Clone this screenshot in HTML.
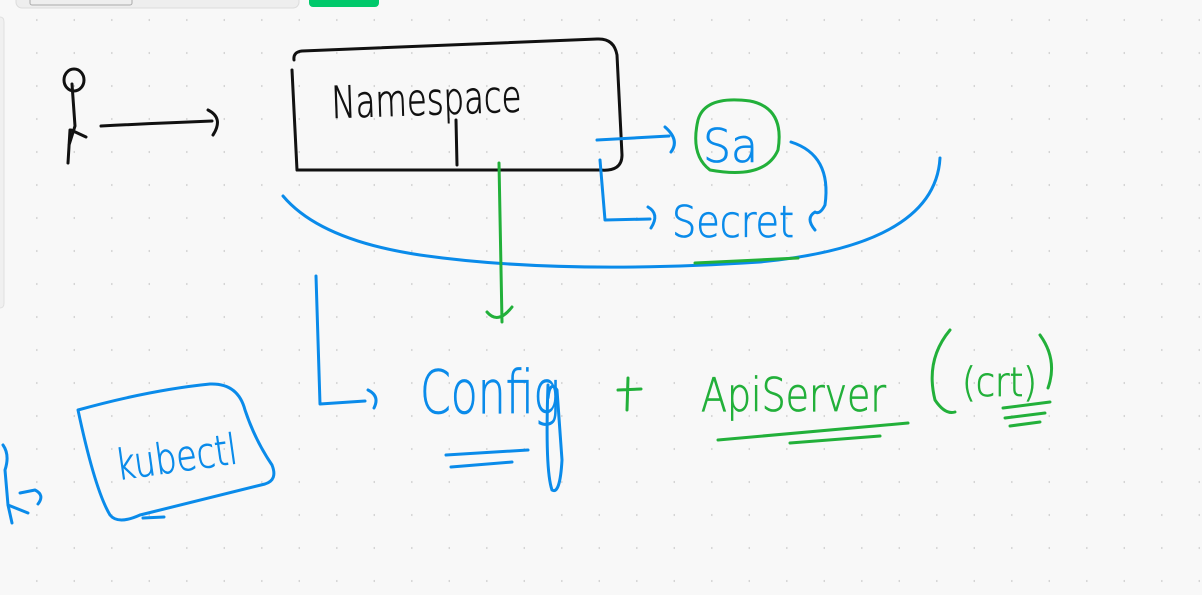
<!DOCTYPE html>
<html><head><meta charset="utf-8"><style>
html,body{margin:0;padding:0;background:#f8f8f8;width:1202px;height:595px;overflow:hidden}
svg{display:block}
text{font-family:"DejaVu Sans","Liberation Sans",sans-serif;font-weight:200;stroke-width:0.8}
</style></head><body>
<svg width="1202" height="595" viewBox="0 0 1202 595" xmlns="http://www.w3.org/2000/svg">
<defs><pattern id="d" x="0" y="0" width="37.5" height="33" patternUnits="userSpaceOnUse"><circle cx="37" cy="20" r="1.1" fill="#d4d4d4"/></pattern></defs>
<rect width="1202" height="595" fill="#f8f8f8"/>
<rect width="1202" height="595" fill="url(#d)"/>
<rect x="16" y="-10" width="283" height="18" rx="6" fill="#eeeeee" stroke="#dcdcdc"/>
<rect x="30" y="-6" width="102" height="11" rx="2" fill="none" stroke="#aaa"/>
<rect x="309" y="-10" width="70" height="17" rx="4" fill="#00c96b"/>
<path d="M-5 17 H0 Q4 17 4 22 V303 Q4 308 0 308 H-5" fill="#f0f0f0" stroke="#e0e0e0"/>
<g fill="none" stroke-linecap="round" stroke-linejoin="round" stroke-width="3">
<g stroke="#111">
<ellipse cx="74" cy="80" rx="10" ry="11"/>
<path d="M72 84 L75 126 L69 145 M71 130 L86 137 M70 130 L68 163"/>
<path d="M101 126 Q160 123 212 121"/>
<path d="M208 110 Q224 118 213 135"/>
<path d="M292 70 L297 170 L600 170 Q622 172 622 155 L617 55 Q614 38 597 39 L302 51 Q293 52 294 60"/>
<path d="M456 120 L457 165"/>
</g>
<g stroke="#0a8bea">
<path d="M283 196 Q320 240 420 255 Q560 275 760 262 Q935 245 940 158"/>
<path d="M597 140 L669 136"/><path d="M665 127 Q680 140 671 152"/>
<path d="M600 160 L605 220 L650 219"/><path d="M648 207 Q660 214 651 228"/>
<path d="M791 142 Q832 155 825 205 Q820 215 815 212 Q805 218 815 230"/>
<path d="M316 276 L320 404 L365 401"/><path d="M368 390 Q380 396 374 408"/>
<path d="M78 410 Q150 390 210 384 Q238 383 245 410 Q255 440 272 465 Q278 480 265 484 L140 515 Q118 525 110 515 Q95 490 78 410"/>
<path d="M143 518 L164 517"/>
<path d="M3 445 Q10 455 5 470 L8 505 L12 523 M8 505 L28 513 M20 493 L35 490 Q45 495 38 504"/>
<path d="M446 455 L528 450 M451 467 L512 462"/>
<path d="M548 385 Q545 470 552 490 Q560 495 562 460 L557 390 Q550 380 548 398"/>
</g>
<g stroke="#22b03a">
<path d="M698 120 Q705 95 750 101 Q785 108 778 150 Q765 180 710 170 Q690 155 698 120"/>
<path d="M499 163 L502 322 M487 312 Q498 325 512 307"/>
<path d="M695 263 L798 258"/>
<path d="M618 390 L641 389 M628 378 L627 410"/>
<path d="M718 440 L908 423 M790 443 L880 436"/>
<path d="M950 330 Q925 360 935 400 Q945 415 955 412"/>
<path d="M1040 335 Q1058 360 1048 388"/>
<path d="M1003 408 L1050 402 M1005 418 L1045 413 M1010 426 L1040 422"/>
</g>
</g>
<text x="332" y="118" font-size="44" fill="#111" stroke="#111" transform="rotate(-2 332 118)" textLength="190" lengthAdjust="spacingAndGlyphs">Namespace</text>
<text x="703" y="162" font-size="46" fill="#0a8bea" stroke="#0a8bea" textLength="55" lengthAdjust="spacingAndGlyphs">Sa</text>
<text x="672" y="237" font-size="44" fill="#0a8bea" stroke="#0a8bea" textLength="122" lengthAdjust="spacingAndGlyphs">Secret</text>
<text x="420" y="413" font-size="60" fill="#0a8bea" stroke="#0a8bea" textLength="140" lengthAdjust="spacingAndGlyphs">Config</text>
<text x="701" y="411" font-size="46" fill="#22b03a" stroke="#22b03a" textLength="185" lengthAdjust="spacingAndGlyphs">ApiServer</text>
<text x="962" y="396" font-size="40" fill="#22b03a" stroke="#22b03a" textLength="75" lengthAdjust="spacingAndGlyphs">(crt)</text>
<text x="118" y="480" font-size="42" fill="#0a8bea" stroke="#0a8bea" transform="rotate(-8 118 480)" textLength="122" lengthAdjust="spacingAndGlyphs">kubectl</text>
</svg>
</body></html>
